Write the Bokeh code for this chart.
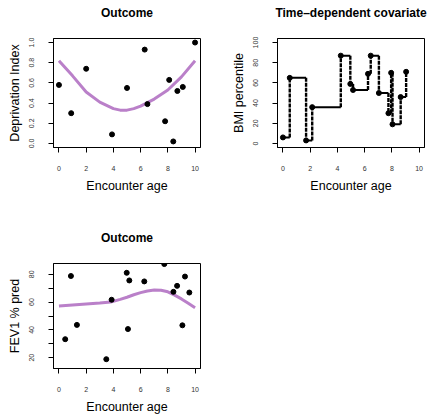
from bokeh.plotting import figure
from bokeh.layouts import column, row
from bokeh.models import FixedTicker, Range1d, NumeralTickFormatter, LinearAxis
from bokeh.embed import file_html
from bokeh.resources import INLINE

# ---------------- data ----------------
x_ticks = [0, 2, 4, 6, 8, 10]

# Panel 1: Deprivation Index
dep_age = [0.0, 0.9, 2.0, 3.9, 5.0, 6.3, 6.5, 7.8, 8.1, 8.4, 8.7, 9.1, 10.0]
dep_val = [0.58, 0.30, 0.74, 0.09, 0.55, 0.93, 0.39, 0.22, 0.63, 0.02, 0.52, 0.56, 1.00]
dep_fit_age = [0, 1, 2, 3, 4, 4.5, 5, 5.5, 6, 7, 8, 9, 10]
dep_fit_val = [0.82, 0.67, 0.51, 0.41, 0.345, 0.33, 0.33, 0.345, 0.37, 0.44, 0.53, 0.66, 0.82]
dep_yticks = [0.0, 0.2, 0.4, 0.6, 0.8, 1.0]

# Panel 2: BMI percentile (time-dependent covariate)
bmi_age = [0.0, 0.5, 1.7, 2.15, 4.25, 4.95, 5.15, 6.25, 6.45, 7.05, 7.75, 7.95, 8.05, 8.65, 9.05]
bmi_val = [6, 65, 3, 36, 87, 59, 53, 69, 87, 50, 30, 70, 19, 46, 71]
bmi_yticks = [0, 20, 40, 60, 80, 100]

# Panel 3: FEV1 % pred
fev_age = [0.46, 0.88, 1.32, 3.48, 3.87, 4.98, 5.07, 5.17, 6.27, 7.74, 8.41, 8.68, 9.07, 9.26, 9.58]
fev_val = [33.3, 78.8, 43.6, 18.9, 61.7, 81.1, 40.6, 75.6, 74.9, 87.4, 67.4, 71.7, 43.3, 78.4, 66.9]
fev_fit_age = [0, 1, 2, 3, 3.8, 4.5, 5, 5.5, 6, 6.5, 7, 7.5, 8, 8.5, 9, 9.5, 10]
fev_fit_val = [57.2, 57.9, 58.6, 59.3, 60.0, 62.0, 63.5, 65.3, 66.8, 68.0, 68.7, 68.5, 67.4, 65.0, 62.3, 59.2, 56.0]
fev_yticks = [20, 30, 40, 50, 60, 70, 80]
fev_ylabels = {20: "20", 30: "", 40: "40", 50: "", 60: "60", 70: "", 80: "80"}

FONT = "Liberation Sans"
PURPLE = "#BA80C9"


def make(w, h, left, right, top, bottom, xr, yr, title, xlabel, ylabel, yticks, overrides=None):
    p = figure(width=w, height=h, output_backend="svg", toolbar_location=None,
               x_range=Range1d(*xr), y_range=Range1d(*yr),
               min_border_left=left, min_border_right=right,
               min_border_top=top, min_border_bottom=bottom)
    p.grid.visible = False
    p.background_fill_color = "white"
    p.border_fill_color = "white"
    p.outline_line_color = "black"
    p.outline_line_width = 1
    p.outline_line_alpha = 1
    p.xaxis.ticker = FixedTicker(ticks=x_ticks)
    p.yaxis.ticker = FixedTicker(ticks=yticks)
    if overrides:
        p.yaxis.major_label_overrides = overrides
    for ax in (p.xaxis[0], p.yaxis[0]):
        ax.major_tick_in = 0
        ax.major_tick_out = 5
        ax.minor_tick_in = 0
        ax.minor_tick_out = 0
        ax.major_tick_line_color = "black"
        ax.axis_line_color = "black"
        ax.major_label_text_font = FONT
        ax.major_label_text_font_size = "7px"
        ax.major_label_text_color = "#333333"
        ax.axis_label_text_font = FONT
        ax.axis_label_text_font_size = "12.5px"
        ax.axis_label_text_font_style = "normal"
        ax.axis_label_text_color = "black"
    p.xaxis.axis_label = xlabel
    p.yaxis.axis_label = ylabel
    p.yaxis.major_label_orientation = "vertical"
    p.xaxis.major_label_standoff = 13
    p.yaxis.major_label_standoff = 14
    p.xaxis.axis_label_standoff = 5
    p.yaxis.axis_label_standoff = 5
    # title drawn as the label of an empty axis above the frame
    tax = LinearAxis(ticker=FixedTicker(ticks=[]), axis_label=title,
                     axis_line_color=None, major_tick_line_color=None,
                     minor_tick_line_color=None,
                     major_label_text_font_size="0px",
                     axis_label_standoff=19,
                     axis_label_text_font=FONT,
                     axis_label_text_font_style="bold",
                     axis_label_text_font_size="12px",
                     axis_label_text_color="black")
    p.add_layout(tax, "above")
    return p


# Panel 1
p1 = make(215, 208, 53, 15, 38, 60, (-0.4, 10.4), (-0.04, 1.04),
          "Outcome", "Encounter age", "Deprivation Index", dep_yticks)
p1.yaxis[0].formatter = NumeralTickFormatter(format="0.0")
p1.line(dep_fit_age, dep_fit_val, line_color=PURPLE, line_width=3)
p1.scatter(dep_age, dep_val, size=5, color="black")

# Panel 2
p2 = make(216, 208, 62, 7, 38, 61, (-0.4, 10.4), (-4, 104),
          "Time\u2013dependent covariate", "Encounter age", "BMI percentile", bmi_yticks)
p2.below[0].axis_line_dash = "8 3"
hx0 = bmi_age[:-1]
hx1 = bmi_age[1:]
hy = bmi_val[:-1]
vy1 = bmi_val[1:]
p2.segment(hx0, hy, hx1, hy, line_color="black", line_width=2)
p2.segment(hx1, hy, hx1, vy1, line_color="black", line_width=2.4, line_dash="4 1")
p2.scatter(bmi_age, bmi_val, size=5, color="black")

# Panel 3
p3 = make(215, 208, 53, 15, 55, 44, (-0.4, 10.4), (12.2, 87.8),
          "Outcome", "Encounter age", "FEV1 % pred", fev_yticks, fev_ylabels)
p3.line(fev_fit_age, fev_fit_val, line_color=PURPLE, line_width=3)
p3.scatter(fev_age, fev_val, size=5, color="black")

layout = column(row(p1, p2), p3)

open("out.html", "w").write(file_html(layout, INLINE))
